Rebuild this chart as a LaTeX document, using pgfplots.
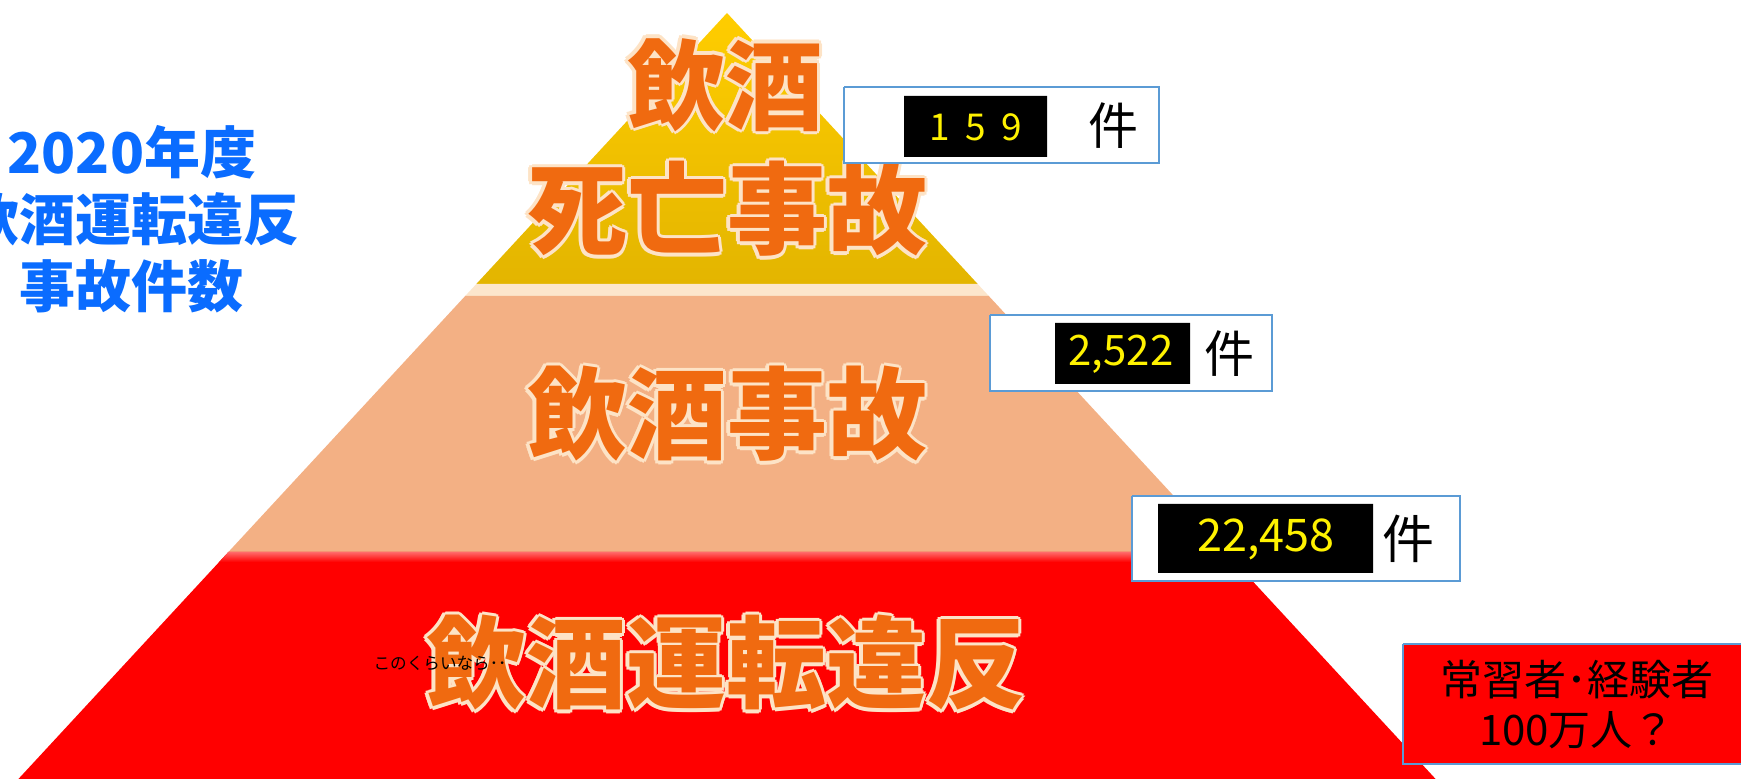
\documentclass[border=0pt]{standalone}
\usepackage{pgfplots}
\pgfplotsset{compat=1.18}
\usepackage{fontspec}
\setmainfont{Noto Sans CJK JP}
\newfontfamily\jp{Noto Sans CJK JP}
\definecolor{yelTop}{HTML}{FFCD00}
\definecolor{yelBot}{HTML}{E3B500}
\definecolor{cream}{HTML}{FCE6CC}
\definecolor{peach}{HTML}{F3B084}
\definecolor{redL}{HTML}{FF0000}
\definecolor{redHi}{HTML}{FF6A6A}
\definecolor{titleblue}{HTML}{0A6CFF}
\definecolor{boxblue}{HTML}{5B9BD5}
\definecolor{orTxt}{HTML}{F06A10}
\definecolor{outl}{HTML}{FDE3C6}
\newcommand{\biglabel}[4]{%
  \node[font=\jp\bfseries\fontsize{#3}{#3}\selectfont, text=outl, xshift=1.6pt] at (axis cs:#1,#2) {#4};
  \node[font=\jp\bfseries\fontsize{#3}{#3}\selectfont, text=outl, xshift=-1.6pt] at (axis cs:#1,#2) {#4};
  \node[font=\jp\bfseries\fontsize{#3}{#3}\selectfont, text=outl, yshift=1.6pt] at (axis cs:#1,#2) {#4};
  \node[font=\jp\bfseries\fontsize{#3}{#3}\selectfont, text=outl, yshift=-1.6pt] at (axis cs:#1,#2) {#4};
  \node[font=\jp\bfseries\fontsize{#3}{#3}\selectfont, text=outl, xshift=1.1pt, yshift=1.1pt] at (axis cs:#1,#2) {#4};
  \node[font=\jp\bfseries\fontsize{#3}{#3}\selectfont, text=outl, xshift=-1.1pt, yshift=1.1pt] at (axis cs:#1,#2) {#4};
  \node[font=\jp\bfseries\fontsize{#3}{#3}\selectfont, text=outl, xshift=1.1pt, yshift=-1.1pt] at (axis cs:#1,#2) {#4};
  \node[font=\jp\bfseries\fontsize{#3}{#3}\selectfont, text=outl, xshift=-1.1pt, yshift=-1.1pt] at (axis cs:#1,#2) {#4};
  \node[font=\jp\bfseries\fontsize{#3}{#3}\selectfont, text=orTxt] at (axis cs:#1,#2) {#4};
}
\begin{document}
\begin{tikzpicture}
\begin{axis}[
  width=870.5pt, height=389.5pt, scale only axis,
  xmin=0, xmax=1741, ymin=0, ymax=779, y dir=reverse,
  hide axis, clip=true,
]
% pyramid layers
\addplot[draw=none, top color=yelTop, bottom color=yelBot] coordinates {(727,13) (977.7,284) (476.3,284) (727,13)};
\addplot[draw=none, fill=cream] coordinates {(476.3,284) (977.7,284) (988.8,296) (465.2,296) (476.3,284)};
\addplot[draw=none, fill=peach] coordinates {(465.2,296) (988.8,296) (1225.6,552) (228.4,552) (465.2,296)};
\addplot[draw=none, fill=redL] coordinates {(228.4,552) (1225.6,552) (1435.6,779) (18.4,779) (228.4,552)};
\addplot[draw=none, top color=redHi, bottom color=redL] coordinates {(228.4,552) (1225.6,552) (1234.8,562) (219.2,562) (228.4,552)};
% big labels
\biglabel{725}{85}{49}{飲酒}
\biglabel{727}{209}{50}{死亡事故}
\biglabel{727}{414}{50}{飲酒事故}
\biglabel{726}{663}{50}{飲酒運転違反}
\node[font=\jp\fontsize{8.3}{9}\selectfont, text=black] at (axis cs:440,663) {このくらいなら･･};
% title
\node[font=\jp\bfseries\fontsize{28}{33.5}\selectfont, text=titleblue, align=center] at (axis cs:132,219) {2020年度\\飲酒運転違反\\事故件数};
% box 1
\addplot[draw=boxblue, line width=1pt, fill=white] coordinates {(844,87) (1159,87) (1159,163) (844,163) (844,87)};
\addplot[draw=none, fill=black] coordinates {(904,96) (1047,96) (1047,157) (904,157) (904,96)};
\node[font=\jp\fontsize{18.5}{20}\selectfont, text=yellow] at (axis cs:976,127) {1\hspace{0.42em}5\hspace{0.42em}9};
\node[font=\jp\fontsize{25}{26}\selectfont, text=black] at (axis cs:1113,126) {件};
% box 2
\addplot[draw=boxblue, line width=1pt, fill=white] coordinates {(990,315) (1272,315) (1272,391) (990,391) (990,315)};
\addplot[draw=none, fill=black] coordinates {(1055,323) (1190,323) (1190,384) (1055,384) (1055,323)};
\node[font=\jp\fontsize{21}{22}\selectfont, text=yellow] at (axis cs:1121,354) {2,522};
\node[font=\jp\fontsize{25}{26}\selectfont, text=black] at (axis cs:1229,354) {件};
% box 3
\addplot[draw=boxblue, line width=1pt, fill=white] coordinates {(1132,496) (1460,496) (1460,581) (1132,581) (1132,496)};
\addplot[draw=none, fill=black] coordinates {(1158,504) (1373,504) (1373,573) (1158,573) (1158,504)};
\node[font=\jp\fontsize{22.5}{24}\selectfont, text=yellow] at (axis cs:1266,539) {22,458};
\node[font=\jp\fontsize{26}{27}\selectfont, text=black] at (axis cs:1408,539) {件};
% box 4
\addplot[draw=boxblue, line width=1pt, fill=redL] coordinates {(1403,644) (1760,644) (1760,764) (1403,764) (1403,644)};
\node[font=\jp\fontsize{21}{25}\selectfont, text=black, align=center] at (axis cs:1577,705) {常習者･経験者\\100万人？};
\end{axis}
\pgfresetboundingbox
\useasboundingbox (current axis.south west) rectangle (current axis.north east);
\end{tikzpicture}
\end{document}
